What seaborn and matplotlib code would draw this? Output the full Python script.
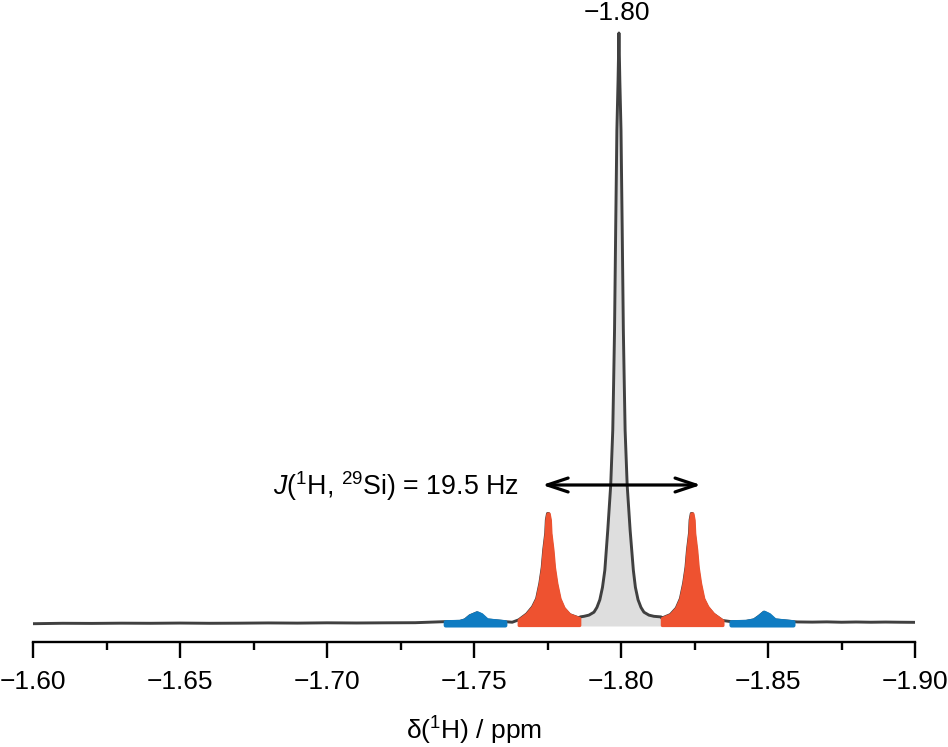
import numpy as np
import pandas as pd
import seaborn as sns
import matplotlib
matplotlib.use("Agg")
import matplotlib.pyplot as plt

sns.set_style("white")
plt.rcParams['font.family'] = ['Liberation Sans', 'DejaVu Sans']
plt.rcParams['mathtext.fontset'] = 'custom'
plt.rcParams['mathtext.rm'] = 'Liberation Sans'
plt.rcParams['mathtext.it'] = 'Liberation Sans:italic'
plt.rcParams['mathtext.default'] = 'regular'

# Spectrum (shift in ppm, intensity relative to the main peak)
base_l_x = [-1.600, -1.610, -1.620, -1.630, -1.640, -1.650, -1.660, -1.670, -1.680, -1.690,
            -1.700, -1.710, -1.720, -1.730]
base_l_y = [0.0005, 0.0012, 0.0010, 0.0014, 0.0012, 0.0016, 0.0012, 0.0014, 0.0018, 0.0015,
            0.0020, 0.0017, 0.0020, 0.0022]
blue_l_x = [-1.7402, -1.7452, -1.7469, -1.7486, -1.7510, -1.7524, -1.7544, -1.7605]
blue_l_y = [0.004, 0.0045, 0.007, 0.014, 0.019, 0.016, 0.007, 0.004]
gap_l_x = [-1.7630]
gap_l_y = [0.003]
red_l_x = [-1.7652, -1.7679, -1.7699, -1.7713, -1.7724, -1.7732, -1.7737, -1.7744, -1.7746, -1.7750,
           -1.7754, -1.7758, -1.7760, -1.7767, -1.7772, -1.7780, -1.7791, -1.7805, -1.7825, -1.7858]
red_l_y = [0.007, 0.017, 0.029, 0.043, 0.069, 0.096, 0.125, 0.154, 0.176, 0.187,
           0.187, 0.176, 0.154, 0.125, 0.096, 0.069, 0.043, 0.027, 0.016, 0.010]
main_x = [-1.7861, -1.7874, -1.7891, -1.7908, -1.7918, -1.7928, -1.7937, -1.7945, -1.7955, -1.7965,
          -1.7972, -1.7975, -1.7978, -1.7982, -1.7986, -1.7990, -1.7993, -1.7996, -1.8000, -1.8004,
          -1.8008, -1.8011, -1.8014, -1.8021, -1.8031, -1.8042, -1.8049, -1.8058, -1.8068, -1.8078,
          -1.8095, -1.8112, -1.8136]
main_y = [0.012, 0.013, 0.015, 0.020, 0.028, 0.041, 0.062, 0.091, 0.159, 0.235,
          0.328, 0.410, 0.497, 0.672, 0.836, 0.920, 1.000, 0.920, 0.836, 0.672,
          0.497, 0.410, 0.328, 0.235, 0.159, 0.091, 0.062, 0.041, 0.028, 0.020,
          0.015, 0.013, 0.012]
red_r_x = [-1.8139, -1.8168, -1.8188, -1.8202, -1.8213, -1.8221, -1.8226, -1.8233, -1.8235, -1.8239,
           -1.8243, -1.8247, -1.8249, -1.8256, -1.8261, -1.8269, -1.8280, -1.8294, -1.8314, -1.8345]
red_r_y = [0.010, 0.016, 0.027, 0.043, 0.069, 0.096, 0.125, 0.154, 0.176, 0.187,
           0.187, 0.176, 0.154, 0.125, 0.096, 0.069, 0.043, 0.029, 0.017, 0.006]
blue_r_x = [-1.8374, -1.8425, -1.8452, -1.8469, -1.8486, -1.8503, -1.8523, -1.8585]
blue_r_y = [0.004, 0.0045, 0.007, 0.013, 0.020, 0.016, 0.007, 0.004]
base_r_x = [-1.860, -1.865, -1.870, -1.875, -1.880, -1.885, -1.890, -1.895, -1.900]
base_r_y = [0.0035, 0.0032, 0.0036, 0.0030, 0.0034, 0.0030, 0.0033, 0.0030, 0.0028]

grey_floor = -0.0034
patch_floor = -0.0017
major_ticks = [-1.60, -1.65, -1.70, -1.75, -1.80, -1.85, -1.90]
major_labels = ["\u22121.60", "\u22121.65", "\u22121.70", "\u22121.75", "\u22121.80", "\u22121.85", "\u22121.90"]
minor_ticks = [-1.625, -1.675, -1.725, -1.775, -1.825, -1.875]
peak_label = "\u22121.80"
coupling_label = r"$\mathit{J}$($^{1}$H, $^{29}$Si) = 19.5 Hz"
x_label = r"δ($^{1}$H) / ppm"
arrow_ends = [-1.7732, -1.8272]
arrow_level = 0.2352
label_level = 0.2330

shift = base_l_x + blue_l_x + gap_l_x + red_l_x + main_x + red_r_x + blue_r_x + base_r_x
inten = base_l_y + blue_l_y + gap_l_y + red_l_y + main_y + red_r_y + blue_r_y + base_r_y
df = pd.DataFrame({"shift": shift, "intensity": inten})

W, H = 948, 747
fig = plt.figure(figsize=(W / 100, H / 100), dpi=100)
ax = fig.add_axes([33 / W, (H - 642) / H, 882 / W, 609 / H])

sns.lineplot(data=df, x="shift", y="intensity", sort=False, estimator=None, errorbar=None,
             color="#404040", lw=2.1, ax=ax, zorder=3, clip_on=False)
ax.lines[0].set_solid_joinstyle("round")
ax.lines[0].set_solid_capstyle("butt")

ax.fill_between(main_x, grey_floor, main_y, color="#dedede", lw=0, zorder=2)
for xs, ys in [(red_l_x, red_l_y), (red_r_x, red_r_y)]:
    ax.fill_between(xs, patch_floor, ys, facecolor="#ee5230", edgecolor="#ee5230", lw=2.3,
                    joinstyle="round", zorder=4)
for xs, ys in [(blue_l_x, blue_l_y), (blue_r_x, blue_r_y)]:
    ax.fill_between(xs, patch_floor, ys, facecolor="#0f7cc2", edgecolor="#0f7cc2", lw=2.9,
                    joinstyle="round", zorder=4)

ax.set_xlim(-1.60, -1.90)
ax.set_ylim(-18 / 591, 1.0)
ax.set_yticks([])
ax.set_xticks(major_ticks, major_labels)
ax.set_xticks(minor_ticks, minor=True)
ax.tick_params(axis="x", which="major", length=11.5, width=1.7, labelsize=19, pad=8.5, color="black",
               labelcolor="black", bottom=True)
ax.tick_params(axis="x", which="minor", length=5.8, width=1.7, color="black", bottom=True)
for s in ["top", "left", "right"]:
    ax.spines[s].set_visible(False)
ax.spines["bottom"].set_linewidth(1.7)
ax.spines["bottom"].set_color("black")
ax.set_ylabel("")
ax.set_xlabel(x_label, fontsize=19, color="black")
ax.xaxis.set_label_coords((474 - 33) / 882, -88.5 / 609, transform=ax.transAxes)
ax.xaxis.label.set_verticalalignment("center")

ax.text(-1.7986, 1.0 + 13.5 / 591, peak_label, fontsize=19, ha="center", va="baseline", color="black", clip_on=False)
ax.text(-1.7653, label_level, coupling_label, fontsize=19.3, ha="right", va="center", color="black")
ax.annotate("", xy=(arrow_ends[0], arrow_level), xytext=(arrow_ends[1], arrow_level),
            arrowprops=dict(arrowstyle="<->,head_length=0.75,head_width=0.25", color="black", lw=2.3,
                            mutation_scale=20, shrinkA=0, shrinkB=0), zorder=6)

fig.savefig("out.png", dpi=100, facecolor="white")
